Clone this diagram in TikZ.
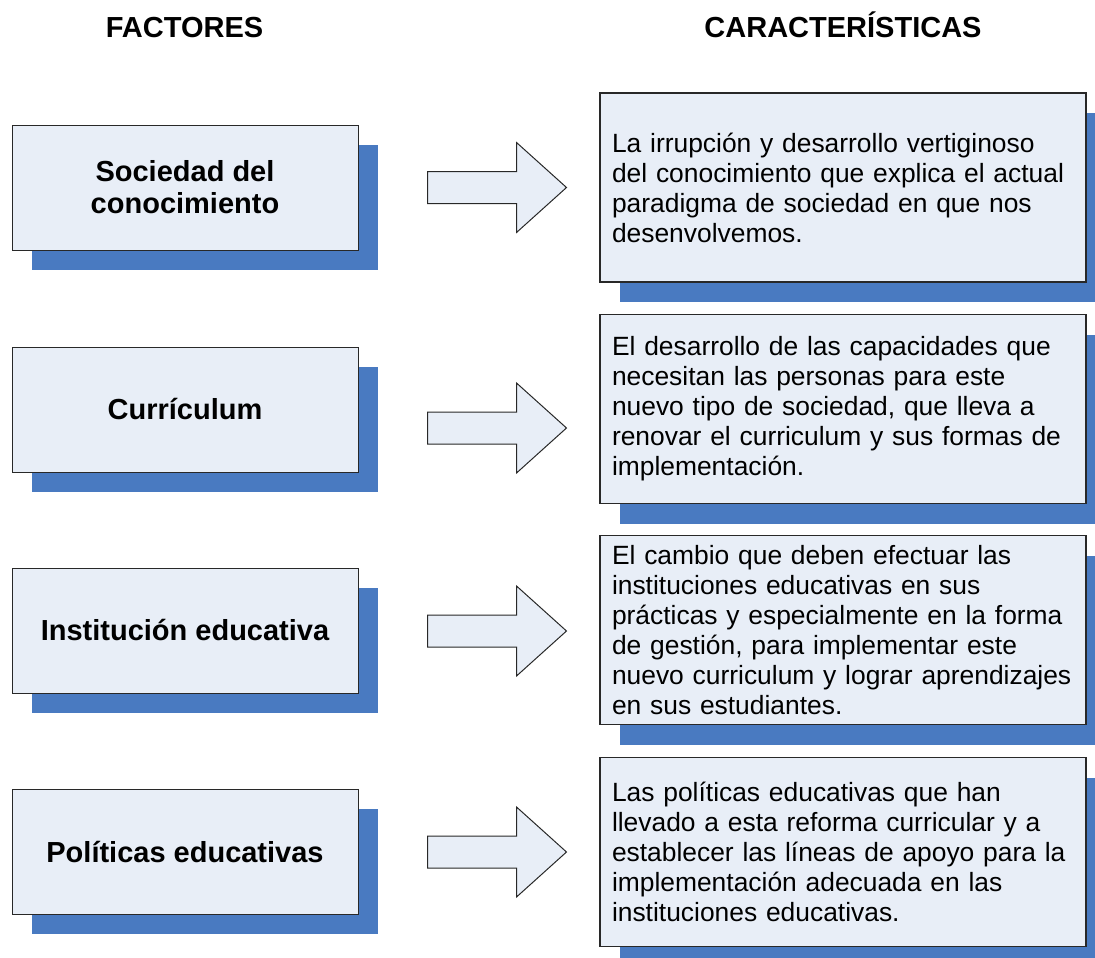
\documentclass[tikz,border=0pt]{standalone}
\usepackage{fontspec}
\setmainfont{Liberation Sans}
\usetikzlibrary{shapes.arrows,shadows}

\definecolor{boxfill}{RGB}{232,238,247}
\definecolor{shadowblue}{RGB}{73,122,193}
\definecolor{edgegray}{RGB}{40,40,40}

\tikzset{
  boxshadow/.style={drop shadow={shadow xshift=20pt,shadow yshift=-20pt,
      shadow scale=1,fill=shadowblue,opacity=1}},
  factor/.style={draw=edgegray,line width=1pt,fill=boxfill,boxshadow,
      minimum width=346pt,minimum height=125pt,align=center,
      font=\fontsize{29}{32}\selectfont\bfseries},
  trait/.style={draw=edgegray,line width=1.2pt,fill=boxfill,boxshadow,
      minimum height=189pt,text width=462pt,inner xsep=12pt,align=left,
      font=\fontsize{26.4}{30}\selectfont},
  bigarrow/.style={single arrow,draw=edgegray,line width=1pt,fill=boxfill,
      minimum height=139pt,minimum width=89pt,inner xsep=0pt,inner ysep=15.5pt,
      single arrow head extend=29pt,single arrow tip angle=84,anchor=tail},
  heading/.style={anchor=base,font=\fontsize{29}{32}\selectfont\bfseries}
}

\begin{document}
\begin{tikzpicture}[x=1pt,y=-1pt]

      \clip (0,0) rectangle (1095,958);

      \node[heading] (hfac) at (184.5,38) {FACTORES};
      \node[heading] (hcar) at (843,38)   {CARACTERÍSTICAS};

      \begin{scope}[every node/.style={factor}]
        \node (f1) at (185,187.5) {Sociedad del\\conocimiento};
        \node (f2) at (185,409.5) {Currículum};
        \node (f3) at (185,630.5) {Institución educativa};
        \node (f4) at (185,851.5) {Políticas educativas};
      \end{scope}

      \begin{scope}[every node/.style={trait}]
        \node (c1) at (843,187.5) {La irrupción y desarrollo vertiginoso\\
          del conocimiento que explica el actual\\
          paradigma de sociedad en que nos\\
          desenvolvemos.};
        \node (c2) at (843,409) {El desarrollo de las capacidades que\\
          necesitan las personas para este\\
          nuevo tipo de sociedad, que lleva a\\
          renovar el curriculum y sus formas de\\
          implementación.};
        \node (c3) at (843,630) {El cambio que deben efectuar las\\
          instituciones educativas en sus\\
          prácticas y especialmente en la forma\\
          de gestión, para implementar este\\
          nuevo curriculum y lograr aprendizajes\\
          en sus estudiantes.};
        \node (c4) at (843,852) {Las políticas educativas que han\\
          llevado a esta reforma curricular y a\\
          establecer las líneas de apoyo para la\\
          implementación adecuada en las\\
          instituciones educativas.};
      \end{scope}

      \begin{scope}[every node/.style={bigarrow}]
        \node (a1) at (427,187.5) {};
        \node (a2) at (427,428)   {};
        \node (a3) at (427,631)   {};
        \node (a4) at (427,852)   {};
      \end{scope}

\end{tikzpicture}
\end{document}
